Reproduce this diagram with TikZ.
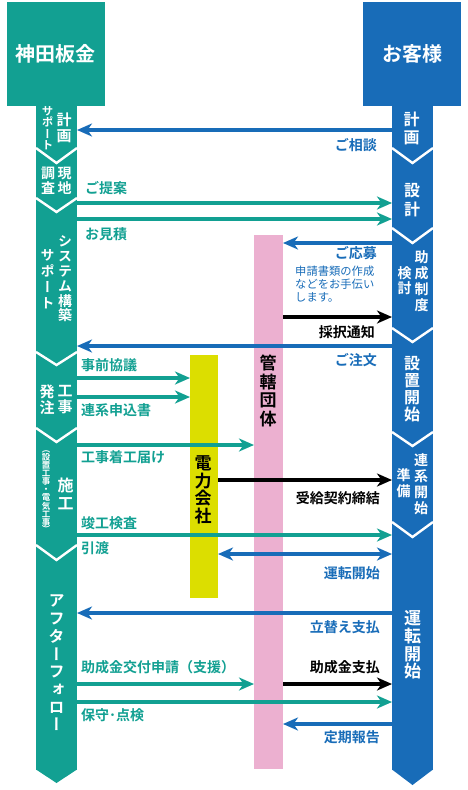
\documentclass[tikz,border=0pt]{standalone}
\usepackage{fontspec}
\setmainfont{Noto Sans CJK JP}[BoldFont={Noto Sans CJK JP Bold}]
\newfontfamily\vjp{Noto Sans CJK JP}[RawFeature={+vert},BoldFont={Noto Sans CJK JP Bold}]
\usetikzlibrary{arrows.meta}
\definecolor{tl}{RGB}{18,160,146}
\definecolor{bl}{RGB}{24,108,184}
\definecolor{pk}{RGB}{236,176,208}
\definecolor{yl}{RGB}{220,222,0}
\newcommand{\vfnt}[2]{\vjp\bfseries\fontsize{#1}{#2}\selectfont}
\newcommand{\hfnt}[1]{\bfseries\fontsize{#1}{#1}\selectfont}
\tikzset{
  box/.style={inner sep=0pt, outer sep=0pt, anchor=north west},
  sepline/.style={draw=white, line width=2.4pt, line join=miter},
  arr/.style={line width=3.7pt, -{Stealth[length=15pt,width=13pt,inset=4.5pt]}},
  darr/.style={line width=3.7pt, {Stealth[length=15pt,width=13pt,inset=4.5pt]}-{Stealth[length=15pt,width=13pt,inset=4.5pt]}},
  tarr/.style={arr, draw=tl},
  barr/.style={arr, draw=bl},
  karr/.style={arr, draw=black},
  vlab/.style={inner sep=0pt, align=center, text=white},
  tlab/.style={inner sep=0pt, anchor=west, text=tl, font=\hfnt{14}},
  blab/.style={inner sep=0pt, anchor=east, text=bl, font=\hfnt{14}},
  klab/.style={inner sep=0pt, anchor=east, text=black, font=\hfnt{14}},
}
\begin{document}
\begin{tikzpicture}[x=1pt,y=-1pt]
\useasboundingbox (0,0) rectangle (467,790);
% headers
\node[box, fill=tl, minimum width=98pt, minimum height=104pt, text=white, font=\hfnt{20}] (kanda) at (7,2) {神田板金};
\node[box, fill=bl, minimum width=98pt, minimum height=104pt, text=white, font=\hfnt{20}] (kyaku) at (363,2) {お客様};
% columns
\node[box, fill=tl, minimum width=41pt, minimum height=665pt] (lcol) at (36,105) {};
\fill[tl] (36,769.5) -- (77,769.5) -- (56.5,783) -- cycle;
\node[box, fill=bl, minimum width=41pt, minimum height=665pt] (rcol) at (392,105) {};
\fill[bl] (392,769.5) -- (433,769.5) -- (412.5,785) -- cycle;
% separators
\foreach \a/\b in {148/163,198/212,352/365,428/442,545/560}
  \draw[sepline] (36,\a) -- (56.5,\b) -- (77,\a);
\foreach \a/\b in {148/163,228/243,328/342,432/446,522/537}
  \draw[sepline] (392,\a) -- (412.5,\b) -- (433,\a);
% bars
\node[box, fill=pk, minimum width=29pt, minimum height=534pt] (pink) at (254,235) {};
\node[box, fill=yl, minimum width=28pt, minimum height=243pt] (yellow) at (190,355) {};
% column labels left
\node[vlab, font=\vfnt{15}{16.5}] (l1a) at (64,128) {計\\画};
\node[vlab, font=\vfnt{11.5}{11.5}] (l1b) at (47.5,128) {サ\\ポ\\ー\\ト};
\node[vlab, font=\vfnt{14}{14.5}] (l2a) at (64.5,181) {現\\地};
\node[vlab, font=\vfnt{14}{14.5}] (l2b) at (48,181) {調\\査};
\node[vlab, font=\vfnt{14}{14.8}] (l3a) at (65,279) {シ\\ス\\テ\\ム\\構\\築};
\node[vlab, font=\vfnt{14}{16}] (l3b) at (47.5,279) {サ\\ポ\\ー\\ト};
\node[vlab, font=\vfnt{15}{16}] (l4a) at (65,400) {工\\事};
\node[vlab, font=\vfnt{15}{16}] (l4b) at (47,400) {発\\注};
\node[vlab, font=\vfnt{16}{18}] (l5a) at (65.5,494) {施\\工};
\node[vlab, font=\vfnt{8.5}{7.9}] (l5b) at (46,492) {（\\設\\置\\工\\事\\・\\電\\気\\工\\事\\）};
\node[vlab, font=\vfnt{16}{17.7}] (l6) at (56.5,663) {ア\\フ\\タ\\ー\\フ\\ォ\\ロ\\ー};
% column labels right
\node[vlab, font=\vfnt{16}{18}] (r1) at (411.5,128.5) {計\\画};
\node[vlab, font=\vfnt{16}{19}] (r2) at (412,200) {設\\計};
\node[vlab, font=\vfnt{14}{16}] (r3a) at (421.5,281) {助\\成\\制\\度};
\node[vlab, font=\vfnt{14}{15}] (r3b) at (404.5,281) {検\\討};
\node[vlab, font=\vfnt{16}{17}] (r4) at (412,389) {設\\置\\開\\始};
\node[vlab, font=\vfnt{14}{16}] (r5a) at (421,484) {連\\系\\開\\始};
\node[vlab, font=\vfnt{14}{16}] (r5b) at (403.5,483) {準\\備};
\node[vlab, font=\vfnt{17}{17.7}] (r6) at (412.5,645) {運\\転\\開\\始};
% bar labels
\node[vlab, text=black, font=\vfnt{17}{18.5}] (pinklab) at (268,391) {管\\轄\\団\\体};
\node[vlab, text=black, font=\vfnt{17}{17.5}] (yellowlab) at (203,490) {電\\力\\会\\社};
% connectors
\draw[barr] (rcol.west |- 0,130) -- (lcol.east |- 0,130);
\draw[tarr] (lcol.east |- 0,203) -- (rcol.west |- 0,203);
\draw[tarr] (lcol.east |- 0,219) -- (rcol.west |- 0,219);
\draw[barr] (rcol.west |- 0,243) -- (pink.east |- 0,243);
\draw[karr] (pink.east |- 0,317) -- (rcol.west |- 0,317);
\draw[barr] (rcol.west |- 0,346) -- (lcol.east |- 0,346);
\draw[tarr] (lcol.east |- 0,378) -- (yellow.west |- 0,378);
\draw[tarr] (lcol.east |- 0,397) -- (yellow.west |- 0,397);
\draw[tarr] (lcol.east |- 0,445) -- (pink.west |- 0,445);
\draw[karr] (yellow.east |- 0,480) -- (rcol.west |- 0,480);
\draw[tarr] (lcol.east |- 0,535) -- (rcol.west |- 0,535);
\draw[darr, draw=bl] (yellow.east |- 0,554) -- (rcol.west |- 0,554);
\draw[barr] (rcol.west |- 0,613) -- (lcol.east |- 0,613);
\draw[tarr] (lcol.east |- 0,684) -- (pink.west |- 0,684);
\draw[karr] (pink.east |- 0,684) -- (rcol.west |- 0,684);
\draw[tarr] (lcol.east |- 0,702) -- (rcol.west |- 0,702);
\draw[barr] (rcol.west |- 0,724) -- (pink.east |- 0,724);
% connector labels
\node[tlab] (t1) at (85,188) {ご提案};
\node[tlab] (t2) at (85,234) {お見積};
\node[tlab] (t3) at (81,365) {事前協議};
\node[tlab] (t4) at (81,410) {連系申込書};
\node[tlab] (t5) at (81,457) {工事着工届け};
\node[tlab] (t6) at (81,523) {竣工検査};
\node[tlab] (t7) at (81,548) {引渡};
\node[tlab] (t8) at (81,667) {助成金交付申請（支援）};
\node[tlab] (t9) at (81,715) {保守･点検};
\node[blab] (b1) at (377,145) {ご相談};
\node[blab] (b2) at (377,253) {ご応募};
\node[blab] (b3) at (377,360) {ご注文};
\node[blab] (b4) at (380,573) {運転開始};
\node[blab] (b5) at (380,627) {立替え支払};
\node[blab] (b6) at (380,737) {定期報告};
\node[klab] (k1) at (375,332) {採択通知};
\node[klab] (k2) at (380,498) {受給契約締結};
\node[klab] (k3) at (380,667) {助成金支払};
\node[inner sep=0pt, anchor=north west, align=left, text=bl, font=\fontsize{11.3}{12.7}\selectfont] (note) at (295,266) {申請書類の作成\\などをお手伝い\\します。};
\end{tikzpicture}
\end{document}
